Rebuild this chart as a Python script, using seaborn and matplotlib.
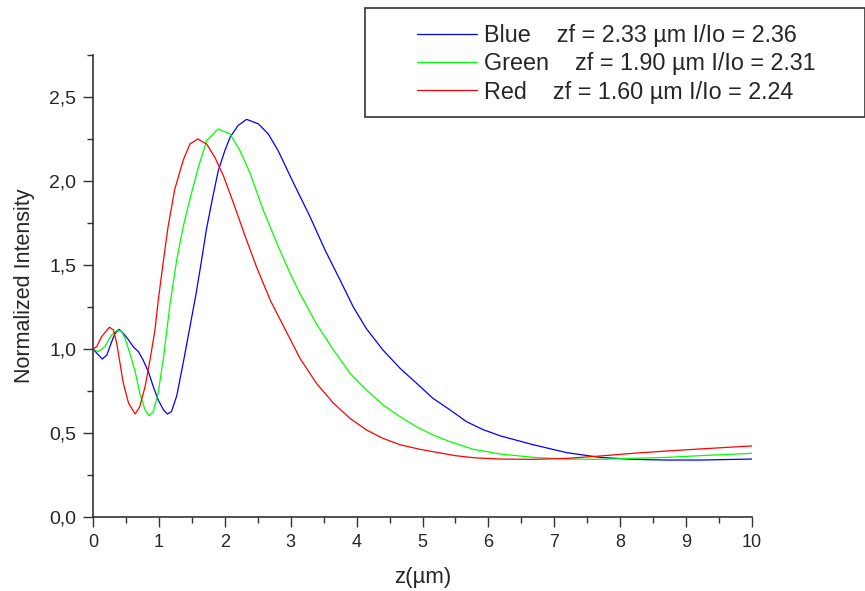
import matplotlib
matplotlib.use("Agg")
import matplotlib.pyplot as plt
from matplotlib.patches import Rectangle
from matplotlib.ticker import MultipleLocator, FuncFormatter
import pandas as pd
import seaborn as sns

# Curves (z in um, normalized intensity)
blue_z = [0, 0.056, 0.14, 0.21, 0.28, 0.33, 0.395, 0.46, 0.54, 0.61, 0.69, 0.76, 0.84, 0.915,
          0.99, 1.07, 1.13, 1.19, 1.27, 1.37, 1.47, 1.56, 1.64, 1.72, 1.81, 1.90, 2.0, 2.08,
          2.20, 2.33, 2.51, 2.66, 2.81, 3.04, 3.29, 3.52, 3.75, 3.95, 4.15, 4.40, 4.66, 4.91,
          5.16, 5.42, 5.67, 5.92, 6.18, 6.68, 7.19, 7.69, 8.19, 8.71, 9.21, 10]
blue_i = [1.0, 0.976, 0.94, 0.964, 1.04, 1.09, 1.117, 1.093, 1.054, 1.014, 0.984, 0.935, 0.865, 0.776,
          0.696, 0.637, 0.613, 0.627, 0.72, 0.92, 1.13, 1.32, 1.51, 1.71, 1.89, 2.06, 2.18, 2.26,
          2.33, 2.367, 2.34, 2.28, 2.18, 1.99, 1.79, 1.59, 1.41, 1.25, 1.12, 0.994, 0.885, 0.796,
          0.706, 0.637, 0.567, 0.52, 0.483, 0.43, 0.383, 0.355, 0.343, 0.339, 0.339, 0.345]

green_z = [0, 0.08, 0.18, 0.28, 0.37, 0.435, 0.485, 0.56, 0.64, 0.71, 0.79, 0.85, 0.915, 0.99,
           1.07, 1.17, 1.27, 1.37, 1.47, 1.60, 1.725, 1.90, 2.08, 2.23, 2.38, 2.58, 2.79, 2.99,
           3.14, 3.39, 3.65, 3.90, 4.15, 4.40, 4.66, 4.91, 5.16, 5.42, 5.77, 6.18, 6.68, 7.19,
           7.69, 8.19, 8.71, 9.21, 10]
green_i = [1.0, 0.984, 1.014, 1.083, 1.113, 1.103, 1.064, 0.974, 0.865, 0.736, 0.637, 0.603, 0.627, 0.74,
           0.95, 1.27, 1.53, 1.73, 1.89, 2.085, 2.24, 2.31, 2.28, 2.18, 2.05, 1.83, 1.63, 1.45,
           1.33, 1.15, 0.994, 0.855, 0.756, 0.667, 0.597, 0.537, 0.488, 0.448, 0.403, 0.375, 0.355, 0.345,
           0.343, 0.349, 0.355, 0.365, 0.379]

red_z = [0, 0.056, 0.13, 0.25, 0.31, 0.36, 0.41, 0.46, 0.54, 0.64, 0.71, 0.79, 0.865, 0.94,
         0.99, 1.07, 1.14, 1.24, 1.37, 1.47, 1.59, 1.725, 1.85, 1.98, 2.13, 2.31, 2.48, 2.69,
         3.14, 3.39, 3.65, 3.90, 4.15, 4.40, 4.66, 4.96, 5.5, 5.8, 6.18, 6.68, 7.19, 7.69,
         8.19, 8.71, 9.21, 10]
red_i = [1.0, 1.014, 1.073, 1.13, 1.113, 1.034, 0.915, 0.796, 0.677, 0.613, 0.657, 0.776, 0.935, 1.113,
         1.29, 1.53, 1.73, 1.95, 2.125, 2.22, 2.25, 2.22, 2.14, 2.03, 1.87, 1.67, 1.49, 1.29,
         0.945, 0.796, 0.677, 0.587, 0.518, 0.468, 0.43, 0.403, 0.365, 0.352, 0.345, 0.343, 0.349, 0.363,
         0.379, 0.393, 0.405, 0.423]

labels = ["Blue    zf = 2.33 µm I/Io = 2.36",
          "Green    zf = 1.90 µm I/Io = 2.31",
          "Red    zf = 1.60 µm I/Io = 2.24"]
colors = ["#0000ff", "#00ff00", "#ff0000"]

# Long-form table for seaborn
df = pd.concat([
    pd.DataFrame({"z": blue_z, "I": blue_i, "series": labels[0]}),
    pd.DataFrame({"z": green_z, "I": green_i, "series": labels[1]}),
    pd.DataFrame({"z": red_z, "I": red_i, "series": labels[2]}),
])

sns.set_style("ticks")
plt.rcParams["font.family"] = ["Liberation Sans", "DejaVu Sans"]

fig = plt.figure(figsize=(8.65, 5.91), dpi=100)
ax = fig.add_axes([93 / 865, 1 - 517 / 591, (752 - 93) / 865, (517 - 55) / 591])

sns.lineplot(data=df, x="z", y="I", hue="series", palette=colors, sort=False,
             estimator=None, linewidth=0.9, ax=ax, legend=False)

ax.set_xlim(0, 10)
ax.set_ylim(0, 2.75)
ax.xaxis.set_major_locator(MultipleLocator(1))
ax.xaxis.set_minor_locator(MultipleLocator(0.5))
ax.yaxis.set_major_locator(MultipleLocator(0.5))
ax.yaxis.set_minor_locator(MultipleLocator(0.25))
ax.yaxis.set_major_formatter(FuncFormatter(lambda v, p: f"{v:.1f}".replace(".", ",")))
ax.tick_params(which="major", length=7, width=1, color="#333333", pad=5)
ax.tick_params(which="minor", length=4, width=1, color="#333333")
ax.tick_params(axis="y", labelsize=14)
ax.tick_params(axis="x", labelsize=13)
for s in ["top", "right"]:
    ax.spines[s].set_visible(False)
for s in ["left", "bottom"]:
    ax.spines[s].set_linewidth(1.2)
    ax.spines[s].set_color("#333333")

ax.set_xlabel("z(µm)", fontsize=16, labelpad=12)
ax.set_ylabel("Normalized Intensity", fontsize=15.5, labelpad=10)

# Legend box like the reference
fig.patches.append(Rectangle((365 / 865, 1 - 117 / 591), 500 / 865, 109 / 591,
                             transform=fig.transFigure, fill=False,
                             edgecolor="#333333", linewidth=1.2))
handles = [plt.Line2D([], [], color=c, linewidth=0.9) for c in colors]
fig.legend(handles, labels, loc="upper left", bbox_to_anchor=(408 / 865, 1 - 15 / 591),
           frameon=False, fontsize=16.8, handlelength=2.55, handletextpad=0.3,
           labelspacing=0.22, borderaxespad=0)

fig.savefig("out.png", dpi=100)
